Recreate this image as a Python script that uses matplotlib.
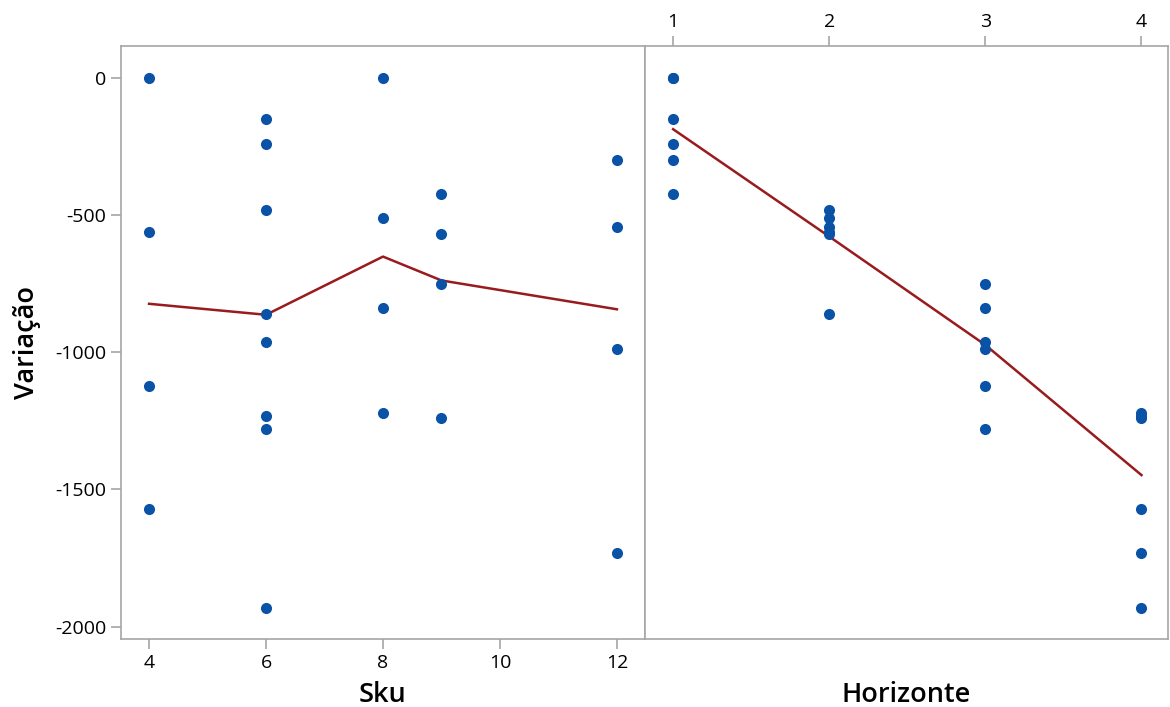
import matplotlib
matplotlib.use("Agg")
import matplotlib.pyplot as plt

plt.rcParams["font.family"] = ["Open Sans", "DejaVu Sans"]
plt.rcParams["axes.unicode_minus"] = False

# observed points, Sku panel
sku_x = [4, 4, 4, 4,
         6, 6, 6, 6, 6, 6, 6, 6,
         8, 8, 8, 8,
         9, 9, 9, 9,
         12, 12, 12, 12]
sku_y = [0, -562, -1123, -1570,
         -152, -243, -481, -862, -962, -1232, -1280, -1931,
         0, -510, -841, -1223,
         -424, -571, -752, -1241,
         -300, -543, -990, -1732]

# observed points, Horizonte panel
hor_x = [1] * 6 + [2] * 6 + [3] * 6 + [4] * 6
hor_y = [0, 0, -152, -243, -300, -424,
         -481, -510, -543, -562, -571, -862,
         -752, -841, -962, -990, -1123, -1280,
         -1223, -1232, -1241, -1570, -1732, -1931]

# fitted means (main effects line)
sku_levels = [4, 6, 8, 9, 12]
sku_means = [-824, -864, -652, -739, -844]
hor_levels = [1, 2, 3, 4]
hor_means = [-188, -579, -974, -1448]

PT_COLOR = "#0a52a6"
LN_COLOR = "#981b1e"
SPINE = "#a6a6a6"

fig = plt.figure(figsize=(11.7, 7.07), dpi=100)
ax1 = fig.add_axes([0.1034, 0.0962, 0.4479, 0.8387])
ax2 = fig.add_axes([0.5513, 0.0962, 0.4470, 0.8387], sharey=ax1)

for ax in (ax1, ax2):
    for s in ax.spines.values():
        s.set_color(SPINE)
        s.set_linewidth(1.2)
    ax.tick_params(colors=SPINE, labelcolor="black", length=7, width=1.2, labelsize=14)

ax1.plot(sku_levels, sku_means, color=LN_COLOR, lw=1.8, zorder=2)
ax1.plot(sku_x, sku_y, "o", color=PT_COLOR, ms=8, mec="none", zorder=3)
ax1.set_xlim(3.52, 12.48)
ax1.set_ylim(-2045, 115)
ax1.set_xticks([4, 6, 8, 10, 12])
ax1.set_yticks([0, -500, -1000, -1500, -2000])
ax1.set_xlabel("Sku", fontsize=19.5, fontweight="semibold")
ax1.set_ylabel("Variação", fontsize=19.5, fontweight="semibold", labelpad=10)

ax2.plot(hor_levels, hor_means, color=LN_COLOR, lw=1.8, zorder=2)
ax2.plot(hor_x, hor_y, "o", color=PT_COLOR, ms=8, mec="none", zorder=3)
ax2.set_xlim(0.82, 4.17)
ax2.set_xticks(hor_levels)
ax2.xaxis.tick_top()
ax2.tick_params(axis="y", left=False, labelleft=False)
ax2.set_xlabel("Horizonte", fontsize=19.5, fontweight="semibold")
ax2.xaxis.set_label_position("bottom")

# put both x labels on the same baseline
for ax in (ax1, ax2):
    ax.xaxis.set_label_coords(0.5, -0.071, transform=ax.transAxes)
    ax.xaxis.label.set_va("top")

fig.savefig("out.png", dpi=100)
